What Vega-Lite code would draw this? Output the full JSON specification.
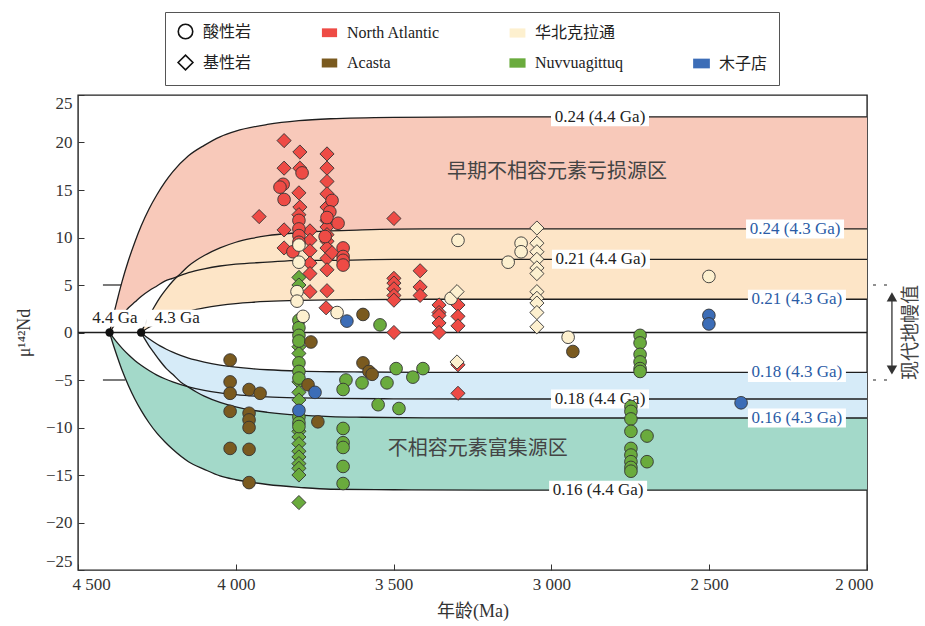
{
"$schema":"https://vega.github.io/schema/vega-lite/v6.json",
"width":789,"height":475,
"autosize":{"type":"none"},
"padding":{"left":78,"top":95,"right":58,"bottom":56},
"background":"white",
"config":{
 "font":"Liberation Serif",
 "view":{"stroke":"#222","strokeWidth":1.4},
 "axis":{"domain":false,"grid":false,"labelFont":"Liberation Serif","labelFontSize":17,"labelColor":"#333","tickColor":"#333","tickSize":-6,"tickWidth":1,"titleFont":"Liberation Serif, Noto Sans CJK SC","titleFontSize":18,"titleColor":"#333","titleFontWeight":"normal"},
 "axisX":{"tickCount":5,"labelPadding":12,"titlePadding":10,"labelFlush":true,"labelFlushOffset":6},
 "axisY":{"tickCount":10,"labelPadding":12,"titlePadding":12,"labelFlush":true},
 "legend":{"title":null,"orient":"none","legendX":87,"legendY":-83,"columns":4,"columnPadding":66,"rowPadding":9,"padding":11,"strokeColor":"#555","labelOffset":8,"labelFont":"Liberation Serif, Noto Sans CJK SC","labelFontSize":16,"labelColor":"#222","symbolStrokeWidth":1.6,"symbolOpacity":1}
},
"datasets":{
 "ref5":[{"a":4421,"a2":4350,"v":5},{"a":4421,"a2":4350,"v":-5}],
 "dash5":[{"a":1981,"a2":1928,"v":5},{"a":1981,"a2":1928,"v":-5}],
 "arrow":[{"a":1921,"v":3.75,"v2":-3.95}],
 "heads":[{"a":1921,"v":3.75,"d":"up"},{"a":1921,"v":-3.95,"d":"down"}],
 "origins":[{"a":4400,"v":0},{"a":4300,"v":0}],
 "zero":[{"v":0}],
 "g44":[
  {"a":4400,"A":0,"B":0,"E":0,"F":0},
  {"a":4390,"A":1.5,"B":0.5,"E":-1.1,"F":-0.46},
  {"a":4375,"A":3.5,"B":1.2,"E":-2.6,"F":-1.1},
  {"a":4360,"A":5.4,"B":1.8,"E":-4.0,"F":-1.67},
  {"a":4340,"A":7.6,"B":2.6,"E":-5.6,"F":-2.35},
  {"a":4320,"A":9.5,"B":3.2,"E":-7.0,"F":-2.94},
  {"a":4300,"A":11.2,"B":3.8,"E":-8.2,"F":-3.45},
  {"a":4275,"A":13.0,"B":4.4,"E":-9.5,"F":-4.0},
  {"a":4250,"A":14.5,"B":4.9,"E":-10.6,"F":-4.48},
  {"a":4225,"A":15.8,"B":5.4,"E":-11.5,"F":-4.87},
  {"a":4200,"A":16.9,"B":5.7,"E":-12.3,"F":-5.2},
  {"a":4150,"A":18.6,"B":6.3,"E":-13.6,"F":-5.72},
  {"a":4100,"A":19.7,"B":6.7,"E":-14.4,"F":-6.09},
  {"a":4050,"A":20.6,"B":7.0,"E":-15.1,"F":-6.35},
  {"a":4000,"A":21.2,"B":7.2,"E":-15.5,"F":-6.54},
  {"a":3900,"A":21.9,"B":7.4,"E":-16.0,"F":-6.77},
  {"a":3800,"A":22.3,"B":7.6,"E":-16.3,"F":-6.88},
  {"a":3700,"A":22.5,"B":7.6,"E":-16.5,"F":-6.94},
  {"a":3500,"A":22.65,"B":7.7,"E":-16.55,"F":-6.98},
  {"a":3200,"A":22.7,"B":7.7,"E":-16.6,"F":-7.0},
  {"a":2000,"A":22.7,"B":7.7,"E":-16.6,"F":-7.0}
 ],
 "g43":[
  {"a":4300,"C":0,"D":0,"G":0,"H":0},
  {"a":4290,"C":0.7,"D":0.23,"G":-0.6,"H":-0.28},
  {"a":4275,"C":1.7,"D":0.55,"G":-1.4,"H":-0.66},
  {"a":4260,"C":2.6,"D":0.83,"G":-2.1,"H":-1.0},
  {"a":4240,"C":3.7,"D":1.17,"G":-3.0,"H":-1.41},
  {"a":4220,"C":4.6,"D":1.47,"G":-3.8,"H":-1.76},
  {"a":4200,"C":5.4,"D":1.73,"G":-4.4,"H":-2.07},
  {"a":4175,"C":6.2,"D":2.0,"G":-5.2,"H":-2.4},
  {"a":4150,"C":7.0,"D":2.24,"G":-5.75,"H":-2.69},
  {"a":4125,"C":7.6,"D":2.43,"G":-6.26,"H":-2.92},
  {"a":4100,"C":8.1,"D":2.6,"G":-6.7,"H":-3.12},
  {"a":4050,"C":8.9,"D":2.86,"G":-7.36,"H":-3.43},
  {"a":4000,"C":9.5,"D":3.05,"G":-7.83,"H":-3.65},
  {"a":3950,"C":9.9,"D":3.18,"G":-8.17,"H":-3.81},
  {"a":3900,"C":10.2,"D":3.27,"G":-8.4,"H":-3.92},
  {"a":3800,"C":10.5,"D":3.38,"G":-8.7,"H":-4.06},
  {"a":3700,"C":10.7,"D":3.44,"G":-8.85,"H":-4.13},
  {"a":3600,"C":10.8,"D":3.47,"G":-8.92,"H":-4.16},
  {"a":3400,"C":10.9,"D":3.5,"G":-8.98,"H":-4.19},
  {"a":3100,"C":10.9,"D":3.5,"G":-9.0,"H":-4.2},
  {"a":2000,"C":10.9,"D":3.5,"G":-9.0,"H":-4.2}
 ],
 "labels":[
  {"a":2846,"v":22.7,"t":"0.24 (4.4 Ga)","g":"k"},
  {"a":2843,"v":7.7,"t":"0.21 (4.4 Ga)","g":"k"},
  {"a":2846,"v":-7.0,"t":"0.18 (4.4 Ga)","g":"k"},
  {"a":2852,"v":-16.6,"t":"0.16 (4.4 Ga)","g":"k"},
  {"a":2228,"v":10.9,"t":"0.24 (4.3 Ga)","g":"b"},
  {"a":2222,"v":3.5,"t":"0.21 (4.3 Ga)","g":"b"},
  {"a":2222,"v":-4.2,"t":"0.18 (4.3 Ga)","g":"b"},
  {"a":2222,"v":-9.0,"t":"0.16 (4.3 Ga)","g":"b"},
  {"a":4383,"v":1.5,"t":"4.4 Ga","g":"s"},
  {"a":4186,"v":1.5,"t":"4.3 Ga","g":"s"}
 ],
 "regions":[
  {"a":2982,"v":16.9,"t":"早期不相容元素亏损源区"},
  {"a":3233,"v":-12.3,"t":"不相容元素富集源区"}
 ],
 "side":[{"a":1861,"v":0,"t":"现代地幔值"}],
 "pts":[
  {"a":3847,"v":20.2,"loc":"North Atlantic","rock":"基性岩"},
  {"a":3847,"v":17.3,"loc":"North Atlantic","rock":"基性岩"},
  {"a":3847,"v":10.8,"loc":"North Atlantic","rock":"基性岩"},
  {"a":3847,"v":8.9,"loc":"North Atlantic","rock":"基性岩"},
  {"a":3797,"v":19.0,"loc":"North Atlantic","rock":"基性岩"},
  {"a":3797,"v":17.3,"loc":"North Atlantic","rock":"基性岩"},
  {"a":3797,"v":13.2,"loc":"North Atlantic","rock":"基性岩"},
  {"a":3800,"v":14.7,"loc":"North Atlantic","rock":"基性岩"},
  {"a":3800,"v":12.4,"loc":"North Atlantic","rock":"基性岩"},
  {"a":3711,"v":18.8,"loc":"North Atlantic","rock":"基性岩"},
  {"a":3711,"v":17.3,"loc":"North Atlantic","rock":"基性岩"},
  {"a":3711,"v":15.9,"loc":"North Atlantic","rock":"基性岩"},
  {"a":3711,"v":14.6,"loc":"North Atlantic","rock":"基性岩"},
  {"a":3711,"v":13.2,"loc":"North Atlantic","rock":"基性岩"},
  {"a":3711,"v":11.8,"loc":"North Atlantic","rock":"基性岩"},
  {"a":3711,"v":11.1,"loc":"North Atlantic","rock":"基性岩"},
  {"a":3711,"v":10.3,"loc":"North Atlantic","rock":"基性岩"},
  {"a":3711,"v":9.6,"loc":"North Atlantic","rock":"基性岩"},
  {"a":3711,"v":8.9,"loc":"North Atlantic","rock":"基性岩"},
  {"a":3711,"v":7.8,"loc":"North Atlantic","rock":"基性岩"},
  {"a":3711,"v":6.6,"loc":"North Atlantic","rock":"基性岩"},
  {"a":3711,"v":4.4,"loc":"North Atlantic","rock":"基性岩"},
  {"a":3714,"v":2.6,"loc":"North Atlantic","rock":"基性岩"},
  {"a":3695,"v":8.4,"loc":"North Atlantic","rock":"基性岩"},
  {"a":3765,"v":10.7,"loc":"North Atlantic","rock":"基性岩"},
  {"a":3765,"v":9.7,"loc":"North Atlantic","rock":"基性岩"},
  {"a":3765,"v":8.6,"loc":"North Atlantic","rock":"基性岩"},
  {"a":3765,"v":7.3,"loc":"North Atlantic","rock":"基性岩"},
  {"a":3765,"v":6.2,"loc":"North Atlantic","rock":"基性岩"},
  {"a":3765,"v":4.3,"loc":"North Atlantic","rock":"基性岩"},
  {"a":3926,"v":12.2,"loc":"North Atlantic","rock":"基性岩"},
  {"a":3499,"v":12.0,"loc":"North Atlantic","rock":"基性岩"},
  {"a":3499,"v":5.7,"loc":"North Atlantic","rock":"基性岩"},
  {"a":3499,"v":5.2,"loc":"North Atlantic","rock":"基性岩"},
  {"a":3499,"v":4.6,"loc":"North Atlantic","rock":"基性岩"},
  {"a":3499,"v":3.9,"loc":"North Atlantic","rock":"基性岩"},
  {"a":3499,"v":3.4,"loc":"North Atlantic","rock":"基性岩"},
  {"a":3499,"v":0.0,"loc":"North Atlantic","rock":"基性岩"},
  {"a":3416,"v":6.5,"loc":"North Atlantic","rock":"基性岩"},
  {"a":3416,"v":4.8,"loc":"North Atlantic","rock":"基性岩"},
  {"a":3416,"v":3.9,"loc":"North Atlantic","rock":"基性岩"},
  {"a":3356,"v":2.9,"loc":"North Atlantic","rock":"基性岩"},
  {"a":3356,"v":2.1,"loc":"North Atlantic","rock":"基性岩"},
  {"a":3356,"v":1.8,"loc":"North Atlantic","rock":"基性岩"},
  {"a":3356,"v":1.0,"loc":"North Atlantic","rock":"基性岩"},
  {"a":3356,"v":0.0,"loc":"North Atlantic","rock":"基性岩"},
  {"a":3296,"v":2.9,"loc":"North Atlantic","rock":"基性岩"},
  {"a":3296,"v":1.7,"loc":"North Atlantic","rock":"基性岩"},
  {"a":3296,"v":0.7,"loc":"North Atlantic","rock":"基性岩"},
  {"a":3296,"v":-3.4,"loc":"North Atlantic","rock":"基性岩"},
  {"a":3296,"v":-6.4,"loc":"North Atlantic","rock":"基性岩"},
  {"a":3790,"v":16.8,"loc":"North Atlantic","rock":"酸性岩"},
  {"a":3850,"v":15.6,"loc":"North Atlantic","rock":"酸性岩"},
  {"a":3860,"v":15.3,"loc":"North Atlantic","rock":"酸性岩"},
  {"a":3847,"v":14.0,"loc":"North Atlantic","rock":"酸性岩"},
  {"a":3695,"v":13.9,"loc":"North Atlantic","rock":"酸性岩"},
  {"a":3702,"v":12.7,"loc":"North Atlantic","rock":"酸性岩"},
  {"a":3711,"v":12.1,"loc":"North Atlantic","rock":"酸性岩"},
  {"a":3717,"v":10.1,"loc":"North Atlantic","rock":"酸性岩"},
  {"a":3676,"v":11.5,"loc":"North Atlantic","rock":"酸性岩"},
  {"a":3800,"v":11.8,"loc":"North Atlantic","rock":"酸性岩"},
  {"a":3800,"v":10.9,"loc":"North Atlantic","rock":"酸性岩"},
  {"a":3800,"v":10.2,"loc":"North Atlantic","rock":"酸性岩"},
  {"a":3800,"v":9.5,"loc":"North Atlantic","rock":"酸性岩"},
  {"a":3660,"v":8.9,"loc":"North Atlantic","rock":"酸性岩"},
  {"a":3660,"v":8.0,"loc":"North Atlantic","rock":"酸性岩"},
  {"a":3660,"v":7.6,"loc":"North Atlantic","rock":"酸性岩"},
  {"a":3660,"v":7.1,"loc":"North Atlantic","rock":"酸性岩"},
  {"a":3819,"v":8.5,"loc":"North Atlantic","rock":"酸性岩"},
  {"a":3800,"v":5.8,"loc":"Nuvvuagittuq","rock":"基性岩"},
  {"a":3800,"v":5.0,"loc":"Nuvvuagittuq","rock":"基性岩"},
  {"a":3800,"v":-1.5,"loc":"Nuvvuagittuq","rock":"基性岩"},
  {"a":3800,"v":-2.2,"loc":"Nuvvuagittuq","rock":"基性岩"},
  {"a":3800,"v":-5.2,"loc":"Nuvvuagittuq","rock":"基性岩"},
  {"a":3800,"v":-6.3,"loc":"Nuvvuagittuq","rock":"基性岩"},
  {"a":3800,"v":-7.1,"loc":"Nuvvuagittuq","rock":"基性岩"},
  {"a":3800,"v":-10.4,"loc":"Nuvvuagittuq","rock":"基性岩"},
  {"a":3800,"v":-11.0,"loc":"Nuvvuagittuq","rock":"基性岩"},
  {"a":3800,"v":-11.7,"loc":"Nuvvuagittuq","rock":"基性岩"},
  {"a":3800,"v":-12.5,"loc":"Nuvvuagittuq","rock":"基性岩"},
  {"a":3800,"v":-13.1,"loc":"Nuvvuagittuq","rock":"基性岩"},
  {"a":3800,"v":-13.8,"loc":"Nuvvuagittuq","rock":"基性岩"},
  {"a":3800,"v":-14.3,"loc":"Nuvvuagittuq","rock":"基性岩"},
  {"a":3800,"v":-15.0,"loc":"Nuvvuagittuq","rock":"基性岩"},
  {"a":3800,"v":-17.9,"loc":"Nuvvuagittuq","rock":"基性岩"},
  {"a":3800,"v":1.3,"loc":"Nuvvuagittuq","rock":"酸性岩"},
  {"a":3800,"v":0.5,"loc":"Nuvvuagittuq","rock":"酸性岩"},
  {"a":3800,"v":-0.3,"loc":"Nuvvuagittuq","rock":"酸性岩"},
  {"a":3800,"v":-0.9,"loc":"Nuvvuagittuq","rock":"酸性岩"},
  {"a":3800,"v":-3.2,"loc":"Nuvvuagittuq","rock":"酸性岩"},
  {"a":3800,"v":-4.1,"loc":"Nuvvuagittuq","rock":"酸性岩"},
  {"a":3800,"v":-4.8,"loc":"Nuvvuagittuq","rock":"酸性岩"},
  {"a":3800,"v":-8.9,"loc":"Nuvvuagittuq","rock":"酸性岩"},
  {"a":3800,"v":-9.5,"loc":"Nuvvuagittuq","rock":"酸性岩"},
  {"a":3800,"v":-9.9,"loc":"Nuvvuagittuq","rock":"酸性岩"},
  {"a":3651,"v":-5.0,"loc":"Nuvvuagittuq","rock":"酸性岩"},
  {"a":3660,"v":-6.0,"loc":"Nuvvuagittuq","rock":"酸性岩"},
  {"a":3660,"v":-10.1,"loc":"Nuvvuagittuq","rock":"酸性岩"},
  {"a":3660,"v":-11.6,"loc":"Nuvvuagittuq","rock":"酸性岩"},
  {"a":3660,"v":-12.1,"loc":"Nuvvuagittuq","rock":"酸性岩"},
  {"a":3660,"v":-14.1,"loc":"Nuvvuagittuq","rock":"酸性岩"},
  {"a":3660,"v":-15.9,"loc":"Nuvvuagittuq","rock":"酸性岩"},
  {"a":3600,"v":-5.3,"loc":"Nuvvuagittuq","rock":"酸性岩"},
  {"a":3549,"v":-7.6,"loc":"Nuvvuagittuq","rock":"酸性岩"},
  {"a":3543,"v":0.8,"loc":"Nuvvuagittuq","rock":"酸性岩"},
  {"a":3521,"v":-5.3,"loc":"Nuvvuagittuq","rock":"酸性岩"},
  {"a":3492,"v":-3.8,"loc":"Nuvvuagittuq","rock":"酸性岩"},
  {"a":3483,"v":-8.0,"loc":"Nuvvuagittuq","rock":"酸性岩"},
  {"a":3439,"v":-4.7,"loc":"Nuvvuagittuq","rock":"酸性岩"},
  {"a":3407,"v":-3.8,"loc":"Nuvvuagittuq","rock":"酸性岩"},
  {"a":2719,"v":-0.3,"loc":"Nuvvuagittuq","rock":"酸性岩"},
  {"a":2719,"v":-1.1,"loc":"Nuvvuagittuq","rock":"酸性岩"},
  {"a":2719,"v":-2.3,"loc":"Nuvvuagittuq","rock":"酸性岩"},
  {"a":2719,"v":-3.1,"loc":"Nuvvuagittuq","rock":"酸性岩"},
  {"a":2719,"v":-3.8,"loc":"Nuvvuagittuq","rock":"酸性岩"},
  {"a":2719,"v":-4.1,"loc":"Nuvvuagittuq","rock":"酸性岩"},
  {"a":2748,"v":-7.8,"loc":"Nuvvuagittuq","rock":"酸性岩"},
  {"a":2748,"v":-8.3,"loc":"Nuvvuagittuq","rock":"酸性岩"},
  {"a":2748,"v":-9.1,"loc":"Nuvvuagittuq","rock":"酸性岩"},
  {"a":2748,"v":-10.4,"loc":"Nuvvuagittuq","rock":"酸性岩"},
  {"a":2748,"v":-12.2,"loc":"Nuvvuagittuq","rock":"酸性岩"},
  {"a":2748,"v":-12.9,"loc":"Nuvvuagittuq","rock":"酸性岩"},
  {"a":2748,"v":-13.6,"loc":"Nuvvuagittuq","rock":"酸性岩"},
  {"a":2748,"v":-14.2,"loc":"Nuvvuagittuq","rock":"酸性岩"},
  {"a":2748,"v":-14.6,"loc":"Nuvvuagittuq","rock":"酸性岩"},
  {"a":2697,"v":-10.9,"loc":"Nuvvuagittuq","rock":"酸性岩"},
  {"a":2697,"v":-13.6,"loc":"Nuvvuagittuq","rock":"酸性岩"},
  {"a":4018,"v":-2.9,"loc":"Acasta","rock":"酸性岩"},
  {"a":4018,"v":-5.2,"loc":"Acasta","rock":"酸性岩"},
  {"a":4018,"v":-6.4,"loc":"Acasta","rock":"酸性岩"},
  {"a":4018,"v":-8.3,"loc":"Acasta","rock":"酸性岩"},
  {"a":4018,"v":-12.2,"loc":"Acasta","rock":"酸性岩"},
  {"a":3958,"v":-6.0,"loc":"Acasta","rock":"酸性岩"},
  {"a":3958,"v":-8.5,"loc":"Acasta","rock":"酸性岩"},
  {"a":3958,"v":-9.2,"loc":"Acasta","rock":"酸性岩"},
  {"a":3958,"v":-10.0,"loc":"Acasta","rock":"酸性岩"},
  {"a":3958,"v":-12.3,"loc":"Acasta","rock":"酸性岩"},
  {"a":3958,"v":-15.8,"loc":"Acasta","rock":"酸性岩"},
  {"a":3923,"v":-6.4,"loc":"Acasta","rock":"酸性岩"},
  {"a":3762,"v":-1.0,"loc":"Acasta","rock":"酸性岩"},
  {"a":3771,"v":-5.5,"loc":"Acasta","rock":"酸性岩"},
  {"a":3740,"v":-9.4,"loc":"Acasta","rock":"酸性岩"},
  {"a":3597,"v":1.9,"loc":"Acasta","rock":"酸性岩"},
  {"a":3597,"v":-3.2,"loc":"Acasta","rock":"酸性岩"},
  {"a":3578,"v":-4.1,"loc":"Acasta","rock":"酸性岩"},
  {"a":3568,"v":-4.4,"loc":"Acasta","rock":"酸性岩"},
  {"a":2932,"v":-2.0,"loc":"Acasta","rock":"酸性岩"},
  {"a":3800,"v":9.2,"loc":"华北克拉通","rock":"酸性岩"},
  {"a":3800,"v":7.4,"loc":"华北克拉通","rock":"酸性岩"},
  {"a":3806,"v":4.3,"loc":"华北克拉通","rock":"酸性岩"},
  {"a":3806,"v":3.3,"loc":"华北克拉通","rock":"酸性岩"},
  {"a":3787,"v":1.7,"loc":"华北克拉通","rock":"酸性岩"},
  {"a":3679,"v":2.1,"loc":"华北克拉通","rock":"酸性岩"},
  {"a":3296,"v":9.7,"loc":"华北克拉通","rock":"酸性岩"},
  {"a":3318,"v":3.6,"loc":"华北克拉通","rock":"酸性岩"},
  {"a":3137,"v":7.4,"loc":"华北克拉通","rock":"酸性岩"},
  {"a":3096,"v":9.4,"loc":"华北克拉通","rock":"酸性岩"},
  {"a":3096,"v":8.5,"loc":"华北克拉通","rock":"酸性岩"},
  {"a":2947,"v":-0.5,"loc":"华北克拉通","rock":"酸性岩"},
  {"a":2501,"v":5.9,"loc":"华北克拉通","rock":"酸性岩"},
  {"a":3299,"v":4.3,"loc":"华北克拉通","rock":"基性岩"},
  {"a":3299,"v":-3.1,"loc":"华北克拉通","rock":"基性岩"},
  {"a":3046,"v":11.0,"loc":"华北克拉通","rock":"基性岩"},
  {"a":3046,"v":9.4,"loc":"华北克拉通","rock":"基性岩"},
  {"a":3046,"v":8.5,"loc":"华北克拉通","rock":"基性岩"},
  {"a":3046,"v":7.7,"loc":"华北克拉通","rock":"基性岩"},
  {"a":3046,"v":6.8,"loc":"华北克拉通","rock":"基性岩"},
  {"a":3046,"v":6.2,"loc":"华北克拉通","rock":"基性岩"},
  {"a":3046,"v":4.3,"loc":"华北克拉通","rock":"基性岩"},
  {"a":3046,"v":3.6,"loc":"华北克拉通","rock":"基性岩"},
  {"a":3046,"v":3.1,"loc":"华北克拉通","rock":"基性岩"},
  {"a":3046,"v":2.1,"loc":"华北克拉通","rock":"基性岩"},
  {"a":3046,"v":0.6,"loc":"华北克拉通","rock":"基性岩"},
  {"a":3648,"v":1.2,"loc":"木子店","rock":"酸性岩"},
  {"a":3749,"v":-6.3,"loc":"木子店","rock":"酸性岩"},
  {"a":3800,"v":-8.2,"loc":"木子店","rock":"酸性岩"},
  {"a":2501,"v":1.8,"loc":"木子店","rock":"酸性岩"},
  {"a":2501,"v":0.9,"loc":"木子店","rock":"酸性岩"},
  {"a":2399,"v":-7.4,"loc":"木子店","rock":"酸性岩"}
 ]
},
"layer":[
 {"data":{"name":"ref5"},"mark":{"type":"rule","color":"#222","strokeWidth":1.2},
  "encoding":{
   "x":{"field":"a","type":"quantitative","scale":{"domain":[2000,4500],"reverse":true,"nice":false,"zero":false},"title":"年龄(Ma)","axis":{"labelExpr":"replace(format(datum.value, ','), ',', ' ')"}},
   "x2":{"field":"a2"},
   "y":{"field":"v","type":"quantitative","scale":{"domain":[-25,25],"nice":false,"zero":false},"title":"μ¹⁴²Nd"}}},
 {"data":{"name":"g44"},"mark":{"type":"area","fill":"#f8c9ba","interpolate":"monotone"},
  "encoding":{"x":{"field":"a","type":"quantitative"},"y":{"field":"A","type":"quantitative","title":"μ¹⁴²Nd"},"y2":{"field":"B"}}},
 {"data":{"name":"g43"},"mark":{"type":"area","fill":"#fde5c7","interpolate":"monotone"},
  "encoding":{"x":{"field":"a","type":"quantitative"},"y":{"field":"C","type":"quantitative","title":"μ¹⁴²Nd"},"y2":{"field":"D"}}},
 {"data":{"name":"g44"},"mark":{"type":"area","fill":"#a3d9c9","interpolate":"monotone"},
  "encoding":{"x":{"field":"a","type":"quantitative"},"y":{"field":"E","type":"quantitative","title":"μ¹⁴²Nd"},"y2":{"field":"F"}}},
 {"data":{"name":"g43"},"mark":{"type":"area","fill":"#d6ebf8","interpolate":"monotone"},
  "encoding":{"x":{"field":"a","type":"quantitative"},"y":{"field":"H","type":"quantitative","title":"μ¹⁴²Nd"},"y2":{"field":"G"}}},
 {"data":{"name":"g44"},"transform":[{"fold":["A","B","E","F"],"as":["key","value"]}],
  "mark":{"type":"line","color":"#1e1e1e","strokeWidth":1.3,"interpolate":"monotone"},
  "encoding":{"x":{"field":"a","type":"quantitative"},"y":{"field":"value","type":"quantitative","title":"μ¹⁴²Nd"},"detail":{"field":"key"}}},
 {"data":{"name":"g43"},"transform":[{"fold":["C","D","G","H"],"as":["key","value"]}],
  "mark":{"type":"line","color":"#1e1e1e","strokeWidth":1.3,"interpolate":"monotone"},
  "encoding":{"x":{"field":"a","type":"quantitative"},"y":{"field":"value","type":"quantitative","title":"μ¹⁴²Nd"},"detail":{"field":"key"}}},
 {"data":{"name":"zero"},"mark":{"type":"rule","color":"#1e1e1e","strokeWidth":1.4},
  "encoding":{"y":{"field":"v","type":"quantitative"}}},
 {"data":{"name":"labels"},"transform":[{"filter":"datum.g !== 's'"}],
  "mark":{"type":"point","filled":true,"fill":"white","stroke":null,"strokeWidth":0,"opacity":1,"shape":"M-1,-0.194H1V0.194H-1Z","size":9604},
  "encoding":{"x":{"field":"a","type":"quantitative"},"y":{"field":"v","type":"quantitative"}}},
 {"data":{"name":"labels"},"transform":[{"filter":"datum.g === 's'"}],
  "mark":{"type":"point","filled":true,"fill":"white","stroke":null,"strokeWidth":0,"opacity":1,"shape":"M-1,-0.274H1V0.274H-1Z","size":3844},
  "encoding":{"x":{"field":"a","type":"quantitative"},"y":{"field":"v","type":"quantitative"}}},
 {"data":{"name":"labels"},"transform":[{"filter":"datum.g !== 'b'"}],
  "mark":{"type":"text","font":"Liberation Serif","fontSize":17,"color":"#222","align":"center","baseline":"middle"},
  "encoding":{"x":{"field":"a","type":"quantitative"},"y":{"field":"v","type":"quantitative"},"text":{"field":"t"}}},
 {"data":{"name":"labels"},"transform":[{"filter":"datum.g === 'b'"}],
  "mark":{"type":"text","font":"Liberation Serif","fontSize":17,"color":"#2b5ca6","align":"center","baseline":"middle"},
  "encoding":{"x":{"field":"a","type":"quantitative"},"y":{"field":"v","type":"quantitative"},"text":{"field":"t"}}},
 {"data":{"name":"regions"},
  "mark":{"type":"text","font":"Noto Sans CJK SC","fontSize":20,"color":"#444","align":"center","baseline":"middle"},
  "encoding":{"x":{"field":"a","type":"quantitative"},"y":{"field":"v","type":"quantitative"},"text":{"field":"t"}}},
 {"data":{"name":"origins"},
  "mark":{"type":"point","filled":true,"fill":"#111","stroke":null,"opacity":1,"size":70,"shape":"circle"},
  "encoding":{"x":{"field":"a","type":"quantitative"},"y":{"field":"v","type":"quantitative"}}},
 {"data":{"name":"pts"},
  "mark":{"type":"point","filled":true,"opacity":1,"stroke":"#333","strokeWidth":0.9},
  "encoding":{
   "x":{"field":"a","type":"quantitative"},
   "y":{"field":"v","type":"quantitative"},
   "shape":{"field":"rock","type":"nominal","scale":{"domain":["酸性岩","基性岩"],"range":["circle","diamond"]},"legend":null},
   "size":{"field":"rock","type":"nominal","scale":{"domain":["酸性岩","基性岩"],"range":[160,200]},"legend":null},
   "fill":{"field":"loc","type":"nominal","scale":{"domain":["North Atlantic","Acasta","华北克拉通","Nuvvuagittuq","木子店"],"range":["#ee4b45","#7a5a1f","#fdf0cf","#6aab3d","#3c6db7"]},"legend":null}}},
 {"data":{"name":"dash5"},"mark":{"type":"rule","color":"#222","strokeWidth":1.2,"strokeDash":[3,8]},
  "encoding":{"x":{"field":"a","type":"quantitative"},"x2":{"field":"a2"},"y":{"field":"v","type":"quantitative"}}},
 {"data":{"name":"arrow"},"mark":{"type":"rule","color":"#333","strokeWidth":1.3},
  "encoding":{"x":{"field":"a","type":"quantitative"},"y":{"field":"v","type":"quantitative"},"y2":{"field":"v2"}}},
 {"data":{"name":"heads"},"mark":{"type":"point","filled":true,"fill":"#333","stroke":null,"opacity":1,"size":110},
  "encoding":{"x":{"field":"a","type":"quantitative"},"y":{"field":"v","type":"quantitative"},
   "shape":{"field":"d","type":"nominal","scale":{"domain":["up","down"],"range":["triangle-up","triangle-down"]},"legend":null}}},
 {"data":{"name":"side"},"mark":{"type":"text","font":"Noto Sans CJK SC","fontSize":19,"color":"#444","align":"center","baseline":"middle","angle":270},
  "encoding":{"x":{"field":"a","type":"quantitative"},"y":{"field":"v","type":"quantitative"},"text":{"field":"t"}}},
 {"data":{"name":"pts"},"transform":[{"filter":"false"}],
  "mark":{"type":"point","filled":true,"opacity":1},
  "encoding":{
   "x":{"field":"a","type":"quantitative"},
   "y":{"field":"v","type":"quantitative"},
   "fill":{"field":"loc","type":"nominal","scale":{"domain":["酸性岩","基性岩","North Atlantic","Acasta","华北克拉通","Nuvvuagittuq"," ","木子店"],"range":["#ffffff","#ffffff","#ee4b45","#7a5a1f","#fdf0cf","#6aab3d","transparent","#3c6db7"]}},
   "shape":{"field":"loc","type":"nominal","scale":{"domain":["酸性岩","基性岩","North Atlantic","Acasta","华北克拉通","Nuvvuagittuq"," ","木子店"],"range":["circle","diamond","M-1,-0.58H1V0.58H-1Z","M-1,-0.58H1V0.58H-1Z","M-1,-0.58H1V0.58H-1Z","M-1,-0.58H1V0.58H-1Z","M-1,-0.58H1V0.58H-1Z","M-1,-0.58H1V0.58H-1Z"]}},
   "size":{"field":"loc","type":"nominal","scale":{"domain":["酸性岩","基性岩","North Atlantic","Acasta","华北克拉通","Nuvvuagittuq"," ","木子店"],"range":[210,280,380,380,380,380,380,380]}},
   "stroke":{"field":"loc","type":"nominal","scale":{"domain":["酸性岩","基性岩","North Atlantic","Acasta","华北克拉通","Nuvvuagittuq"," ","木子店"],"range":["#111111","#111111","transparent","transparent","transparent","transparent","transparent","transparent"]}}}}
],
"resolve":{"scale":{"shape":"independent","size":"independent","fill":"independent","stroke":"independent"}}
}
